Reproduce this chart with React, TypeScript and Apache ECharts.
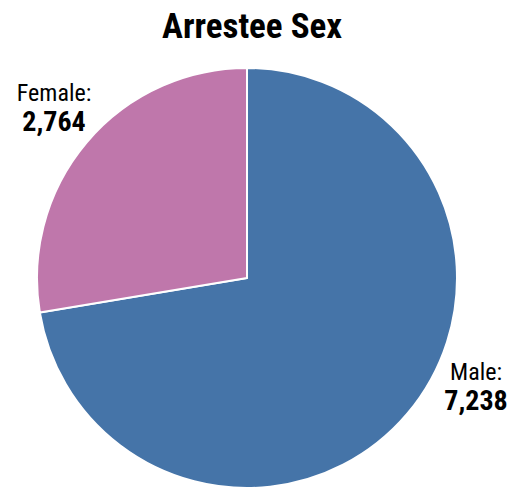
import React, { useEffect, useRef } from "react";
import * as echarts from "echarts";

const categories = ["Male", "Female"];
const values = [7238, 2764];
const colors = ["#4574a8", "#bf77ab"];
const labelPos = [
  [476, 372],
  [54, 93],
];

const FONT = "'Roboto Condensed', 'Open Sans Condensed', sans-serif";

export default function App() {
  const ref = useRef<HTMLDivElement>(null);
  useEffect(() => {
    document.body.style.margin = "0";
    const chart = echarts.init(ref.current!, null, { renderer: "svg" });
    const labels: any[] = [];
    categories.forEach((c, i) => {
      labels.push({
        type: "text",
        x: labelPos[i][0],
        y: labelPos[i][1],
        style: {
          text: c + ":",
          font: `normal 24px ${FONT}`,
          fill: "#000",
          textAlign: "center",
          textVerticalAlign: "middle",
        },
      });
      labels.push({
        type: "text",
        x: labelPos[i][0],
        y: labelPos[i][1] + 28,
        style: {
          text: values[i].toLocaleString("en-US"),
          font: `bold 28px ${FONT}`,
          fill: "#000",
          textAlign: "center",
          textVerticalAlign: "middle",
        },
      });
    });
    chart.setOption({
      animation: false,
      title: {
        text: "Arrestee Sex",
        left: 157,
        top: 4,
        textStyle: { fontFamily: FONT, fontWeight: "bold", fontSize: 35, color: "#000" },
      },
      graphic: labels,
      series: [
        {
          type: "pie",
          center: [247, 278],
          radius: 210,
          startAngle: 90,
          clockwise: true,
          itemStyle: { borderColor: "#fff", borderWidth: 2 },
          labelLine: { show: false },
          label: { show: false },
          emphasis: { disabled: true },
          data: categories.map((c, i) => ({ name: c, value: values[i], itemStyle: { color: colors[i] } })),
        },
      ],
    });
    return () => chart.dispose();
  }, []);
  return <div ref={ref} style={{ width: 525, height: 491 }} />;
}
